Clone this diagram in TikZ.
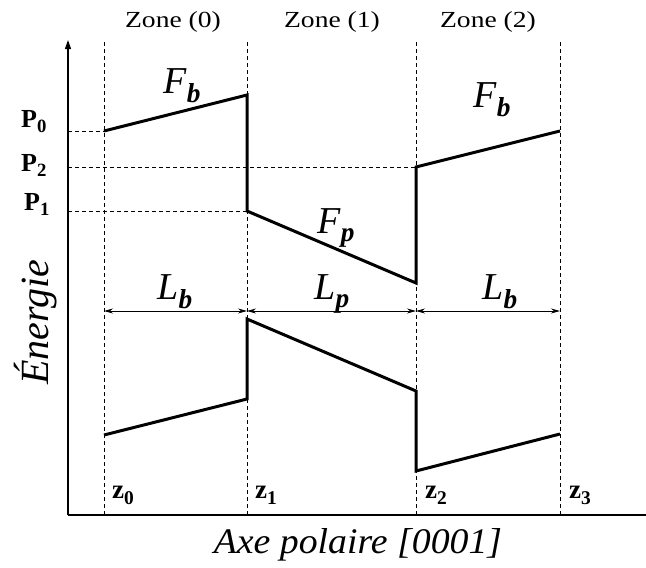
\documentclass[tikz,border=0pt]{standalone}
\usepackage{fontspec}
\setmainfont{Liberation Serif}[ItalicFont={Liberation Serif Italic}, BoldFont={Liberation Serif Bold}, BoldItalicFont={Liberation Serif Bold Italic}]
\usetikzlibrary{arrows.meta}
\newcommand{\dn}[1]{\raisebox{-0.5ex}{\scalebox{0.72}{#1}}}
\newcommand{\hs}[2]{\scalebox{#1}[1]{#2}}
\begin{document}
\begin{tikzpicture}[x=1pt,y=-1pt,
  curve/.style={line width=3pt, line join=miter, line cap=butt},
  guide/.style={line width=0.8pt, dash pattern=on 4pt off 3pt},
  axisline/.style={line width=1.2pt},
  dimarrow/.style={line width=0.8pt, {Stealth[length=9pt,width=5pt]}-{Stealth[length=9pt,width=5pt]}},
  zonelabel/.style={font=\fontsize{23}{24}\selectfont, inner sep=0pt},
  plabel/.style={font=\fontsize{26}{28}\selectfont\bfseries, inner sep=0pt, anchor=base west},
  zlabel/.style={font=\fontsize{27}{28}\selectfont\bfseries, inner sep=0pt, anchor=base west},
  flabel/.style={font=\fontsize{38}{40}\selectfont\itshape, inner sep=0pt},
  bigtext/.style={font=\fontsize{36}{40}\selectfont\itshape, inner sep=0pt}]
\useasboundingbox (0,0) rectangle (646,568);
% axes
\coordinate (O) at (68,515);
\coordinate (ytop) at (68,40);
\coordinate (xend) at (646,515);
\draw[axisline] (O) -- (xend);
\draw[axisline, -{Triangle[length=9pt,width=6pt]}] (O) -- (ytop);
% vertical guides
\foreach \n/\x in {0/104,1/247,2/416,3/560}{
  \coordinate (z\n t) at (\x,42);
  \coordinate (z\n b) at (\x,515);
  \draw[guide] (z\n t) -- (z\n b);
}
% upper profile
\coordinate (u0) at (104,131);
\coordinate (u1) at (247,95);
\coordinate (u2) at (247,211);
\coordinate (u3) at (416,283);
\coordinate (u4) at (416,167);
\coordinate (u5) at (560,131);
\draw[curve] (u0) -- (u1) -- (u2) -- (u3) -- (u4) -- (u5);
% lower profile
\coordinate (l0) at (104,435);
\coordinate (l1) at (247,399);
\coordinate (l2) at (247,319);
\coordinate (l3) at (416,391);
\coordinate (l4) at (416,471);
\coordinate (l5) at (560,434);
\draw[curve] (l0) -- (l1) -- (l2) -- (l3) -- (l4) -- (l5);
% P guides
\coordinate (p0a) at (68,131);
\coordinate (p2a) at (68,167);
\coordinate (p1a) at (68,211);
\draw[guide] (p0a) -- (u0);
\draw[guide] (p2a) -- (u4);
\draw[guide] (p1a) -- (u2);
% dimension arrows
\coordinate (d0) at (104,311);
\coordinate (d1) at (247,311);
\coordinate (d2) at (416,311);
\coordinate (d3) at (560,311);
\draw[dimarrow] (d0) -- (d1);
\draw[dimarrow] (d1) -- (d2);
\draw[dimarrow] (d2) -- (d3);
% labels
\node[zonelabel] (zn0) at (173,22) {\hs{1.2}{Zone (0)}};
\node[zonelabel] (zn1) at (332,22) {\hs{1.2}{Zone (1)}};
\node[zonelabel] (zn2) at (488,22) {\hs{1.2}{Zone (2)}};
\node[plabel] (P0) at (21,127) {P\dn{0}};
\node[plabel] (P2) at (21,171) {P\dn{2}};
\node[plabel] (P1) at (24,210) {P\dn{1}};
\node[flabel] (Fb0) at (182,86) {F\dn{\bfseries b}};
\node[flabel] (Fp) at (336,228) {F\dn{\bfseries p}};
\node[flabel] (Fb2) at (492,100) {F\dn{\bfseries b}};
\node[flabel] (Lb0) at (175,292) {L\dn{\bfseries b}};
\node[flabel] (Lp) at (332,294) {L\dn{\bfseries p}};
\node[flabel] (Lb2) at (500,292) {L\dn{\bfseries b}};
\node[zlabel] (zz0) at (112,498) {z\dn{0}};
\node[zlabel] (zz1) at (255,498) {z\dn{1}};
\node[zlabel] (zz2) at (425,498) {z\dn{2}};
\node[zlabel] (zz3) at (569,498) {z\dn{3}};
\node[bigtext] (xl) at (358,545) {\hs{1.05}{Axe polaire [0001]}};
\node[bigtext, font=\fontsize{40}{44}\selectfont\itshape, rotate=90] (yl) at (36,322) {Énergie};
\end{tikzpicture}
\end{document}
